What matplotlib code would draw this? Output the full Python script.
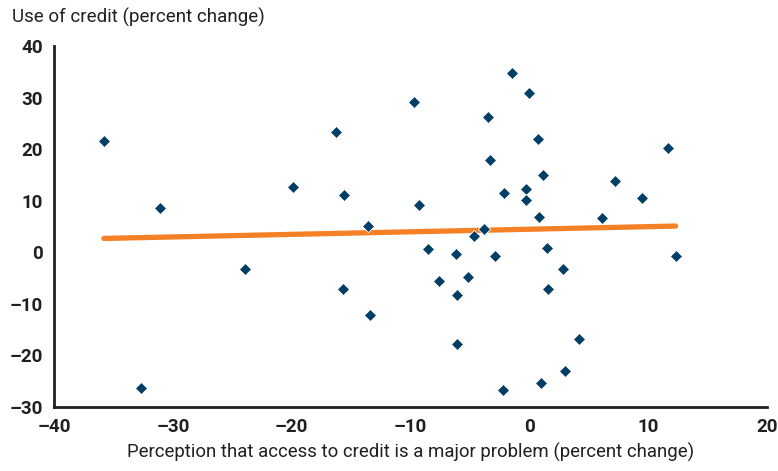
import matplotlib.pyplot as plt

# Change in perception of credit access vs. change in credit use
perception = [-35.8, -31.1, -19.9, -16.3, -15.6, -13.6, -23.9, -15.7, -13.4, -32.7,
              -1.5, 0.0, -9.7, -3.5, 0.75, 11.7, -3.3, 1.15, 7.2, -2.15,
              -0.3, -0.25, -9.25, 9.5, 0.8, 6.1, -3.8, -4.7, -8.5, -6.2,
              -2.9, 1.5, 12.3, 2.8, -5.2, -7.6, -6.1, 1.6, -6.1, 4.2,
              3.0, 1.0, -2.2]
credit_use = [21.6, 8.7, 12.6, 23.4, 11.2, 5.1, -3.3, -7.2, -12.2, -26.3,
              34.7, 30.9, 29.1, 26.3, 21.9, 20.3, 17.9, 15.1, 13.9, 11.6,
              12.3, 10.1, 9.2, 10.5, 6.9, 6.7, 4.6, 3.2, 0.6, -0.3,
              -0.8, 0.8, -0.7, -3.2, -4.8, -5.6, -8.2, -7.2, -17.7, -16.8,
              -23.0, -25.4, -26.8]

# trend line end points
trend_x = [-35.8, 12.3]
trend_y = [2.7, 5.1]

xticks = [-40, -30, -20, -10, 0, 10, 20]
yticks = [-30, -20, -10, 0, 10, 20, 30, 40]

navy = '#003f63'
orange = '#f58025'
dark = '#231f20'

plt.rcParams['font.family'] = ['Roboto', 'DejaVu Sans']

fig = plt.figure(figsize=(7.78, 4.71), dpi=100)
ax = fig.add_axes([0.0694, 0.1359, 0.9166, 0.7661])

ax.plot(trend_x, trend_y, color=orange, linewidth=3.8, solid_capstyle='round', zorder=2)
ax.scatter(perception, credit_use, marker='D', s=38, color=navy,
           edgecolor='white', linewidth=0.6, zorder=3)

ax.set_xlim(-40, 20)
ax.set_ylim(-30, 40)
ax.set_xticks(xticks)
ax.set_yticks(yticks)
ax.set_xticklabels([str(t).replace('-', '\u2013') for t in xticks])
ax.set_yticklabels([str(t).replace('-', '\u2013') for t in yticks])
ax.tick_params(length=0, labelsize=13.5, colors=dark, pad=8)
for lab in ax.get_xticklabels() + ax.get_yticklabels():
    lab.set_fontweight('bold')

for side in ['top', 'right']:
    ax.spines[side].set_visible(False)
for side in ['left', 'bottom']:
    ax.spines[side].set_color(dark)
    ax.spines[side].set_linewidth(2)

ax.set_xlabel('Perception that access to credit is a major problem (percent change)',
              fontsize=13.4, color=dark, labelpad=5)
fig.text(0.015, 0.962, 'Use of credit (percent change)', fontsize=13.5,
         color=dark, ha='left', va='center')

fig.savefig('out.png', dpi=100)
